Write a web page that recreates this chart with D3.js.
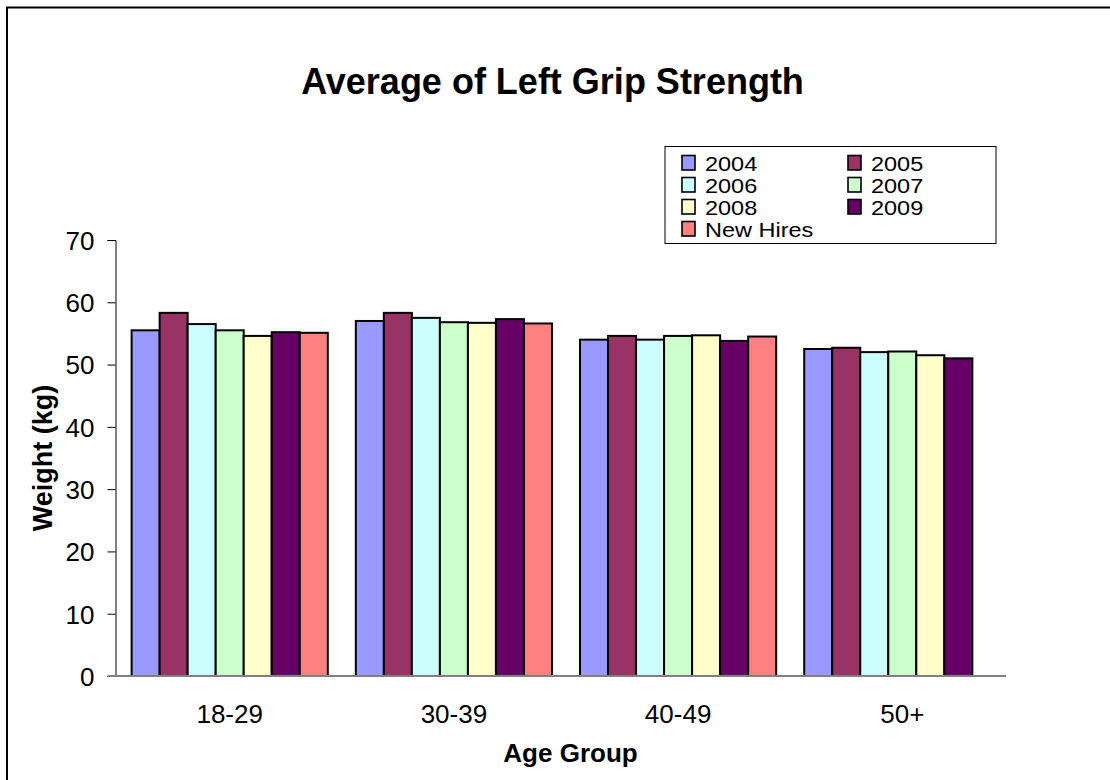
<!DOCTYPE html>
<html>
<head>
<meta charset="utf-8">
<script src="https://cdn.jsdelivr.net/npm/d3@7"></script>
<style>
  html, body { margin: 0; padding: 0; background: #fff; }
  svg { display: block; font-family: "Liberation Sans", Arial, sans-serif; }
</style>
</head>
<body>
<svg id="chart" width="1110" height="780"></svg>
<script>
// ---- Data ----
const categories = ["18-29", "30-39", "40-49", "50+"];
const seriesNames = ["2004", "2005", "2006", "2007", "2008", "2009", "New Hires"];
const seriesColors = ["#9999FF", "#993366", "#CCFFFF", "#CCFFCC", "#FFFFCC", "#660066", "#FF8080"];
const values2004 = [55.5, 57.0, 54.0, 52.5];
const values2005 = [58.3, 58.3, 54.6, 52.7];
const values2006 = [56.5, 57.5, 54.0, 52.0];
const values2007 = [55.5, 56.8, 54.6, 52.1];
const values2008 = [54.6, 56.7, 54.7, 51.5];
const values2009 = [55.2, 57.3, 53.8, 51.0];
const valuesNewHires = [55.1, 56.6, 54.5, null];
const yTicks = [0, 10, 20, 30, 40, 50, 60, 70];
const titleText = "Average of Left Grip Strength";
const xTitle = "Age Group";
const yTitle = "Weight (kg)";

const seriesValues = [values2004, values2005, values2006, values2007, values2008, values2009, valuesNewHires];

// ---- Layout ----
const svg = d3.select("#chart");
const axisLeftX = 115.5, axisRightX = 1006, plotTop = 240, plotBottom = 676;
const FONT = "'Liberation Sans', Arial, sans-serif";

// Outer frame (extends beyond the right/bottom edges)
svg.append("rect")
  .attr("x", 7).attr("y", 7.5)
  .attr("width", 1200).attr("height", 900)
  .attr("fill", "none").attr("stroke", "#000").attr("stroke-width", 2);

const x0 = d3.scaleBand().domain(categories).range([117.6, 1014.4]).paddingInner(0).paddingOuter(0);
const x1 = d3.scaleBand().domain(seriesNames).range([0, x0.bandwidth()]).paddingInner(0).paddingOuter(0.5);
const y = d3.scaleLinear().domain([0, 70]).range([plotBottom, plotTop]);

// Title
svg.append("text")
  .attr("x", 552.5).attr("y", 94)
  .attr("text-anchor", "middle")
  .attr("font-size", 36).attr("font-weight", "bold")
  .text(titleText);

// Bars
const rows = [];
seriesNames.forEach((s, si) => {
  categories.forEach((c, ci) => {
    const v = seriesValues[si][ci];
    if (v != null) rows.push({ s, c, v, color: seriesColors[si] });
  });
});

svg.append("g").selectAll("rect").data(rows).join("rect")
  .attr("x", d => x0(d.c) + x1(d.s))
  .attr("y", d => y(d.v))
  .attr("width", x1.bandwidth())
  .attr("height", d => y(0) - y(d.v))
  .attr("fill", d => d.color)
  .attr("stroke", "#000")
  .attr("stroke-width", 2);

// Y axis
const yAxis = d3.axisLeft(y).tickValues(yTicks).tickSize(8).tickPadding(13).tickFormat(d3.format("d"));
const gy = svg.append("g").attr("transform", `translate(${axisLeftX},0)`).call(yAxis);
gy.select(".domain").attr("stroke", "#000").attr("stroke-width", 1);
gy.selectAll(".tick line").attr("stroke", "#000").attr("stroke-width", 1);
gy.selectAll(".tick text").attr("font-size", 26).attr("fill", "#000")
  .attr("font-family", FONT).attr("dy", "0.36em");

// X axis (labels centred on the groups)
const xAxis = d3.axisBottom(x0).tickSize(0).tickPadding(29);
const gx = svg.append("g").attr("transform", `translate(0,${plotBottom})`).call(xAxis);
gx.select(".domain").remove();
gx.selectAll(".tick text").attr("font-size", 26).attr("fill", "#000")
  .attr("font-family", FONT);
svg.append("line")
  .attr("x1", axisLeftX - 8).attr("x2", axisRightX)
  .attr("y1", plotBottom).attr("y2", plotBottom)
  .attr("stroke", "#808080").attr("stroke-width", 2);

// Axis titles
svg.append("text")
  .attr("x", 570.5).attr("y", 762)
  .attr("text-anchor", "middle")
  .attr("font-size", 26).attr("font-weight", "bold")
  .text(xTitle);
svg.append("text")
  .attr("transform", `translate(52,458) rotate(-90)`)
  .attr("text-anchor", "middle")
  .attr("font-size", 27).attr("font-weight", "bold")
  .text(yTitle);

// Legend
const legendX = 665, legendY = 146.5, legendW = 331, legendH = 97;
const lg = svg.append("g");
lg.append("rect")
  .attr("x", legendX).attr("y", legendY)
  .attr("width", legendW).attr("height", legendH)
  .attr("fill", "#fff").attr("stroke", "#000").attr("stroke-width", 1);

const items = lg.selectAll("g.item").data(seriesNames).join("g")
  .attr("class", "item")
  .attr("transform", (d, i) => {
    const col = i % 2, row = Math.floor(i / 2);
    return `translate(${legendX + 17 + col * 166},${170 + row * 22})`;
  });
items.append("rect")
  .attr("x", 0).attr("y", -14.5)
  .attr("width", 13).attr("height", 14.5)
  .attr("fill", (d, i) => seriesColors[i])
  .attr("stroke", "#000").attr("stroke-width", 1.6);
items.append("text")
  .attr("transform", "translate(23,0.5) scale(1,0.835)")
  .attr("font-size", 23.5)
  .text(d => d);
</script>
</body>
</html>
